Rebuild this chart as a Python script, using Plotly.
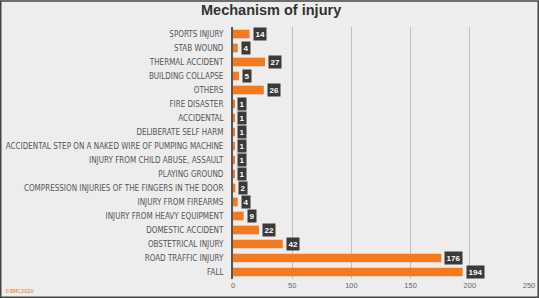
import plotly.graph_objects as go

categories = ["FALL", "ROAD TRAFFIC INJURY", "OBSTETRICAL INJURY", "DOMESTIC ACCIDENT",
              "INJURY FROM HEAVY EQUIPMENT", "INJURY FROM FIREARMS",
              "COMPRESSION INJURIES OF THE FINGERS IN THE DOOR", "PLAYING GROUND",
              "INJURY FROM CHILD ABUSE, ASSAULT",
              "ACCIDENTAL STEP ON A NAKED WIRE OF PUMPING MACHINE",
              "DELIBERATE SELF HARM", "ACCIDENTAL", "FIRE DISASTER", "OTHERS",
              "BUILDING COLLAPSE", "THERMAL ACCIDENT", "STAB WOUND", "SPORTS INJURY"]
values = [194, 176, 42, 22, 9, 4, 2, 1, 1, 1, 1, 1, 1, 26, 5, 27, 4, 14]
tick_vals = [0, 50, 100, 150, 200, 250]

W, H = 539, 298
L, R, T, B = 233, 10, 27, 19
pw = W - L - R
ph = H - T - B

fig = go.Figure(go.Bar(
    x=values, y=categories, orientation="h",
    marker=dict(color="#F47A20", line=dict(width=0)),
    width=0.62, hoverinfo="skip",
))

for c, v in zip(categories, values):
    fig.add_annotation(x=v, y=c, text="<b>%d</b>" % v, showarrow=False,
                       xanchor="left", xshift=3, bgcolor="#3a3a3a",
                       borderpad=1.5,
                       font=dict(family="Liberation Sans", size=8, color="white"))

fig.add_annotation(xref="paper", yref="paper", x=(271 - L) / pw, y=1 + (T - 10) / ph,
                   text="<b>Mechanism of injury</b>", showarrow=False,
                   xanchor="center", yanchor="middle",
                   font=dict(family="Liberation Sans", size=14.5, color="#333333"))
fig.add_annotation(xref="paper", yref="paper", x=(3 - L) / pw, y=-(291 - T - ph) / ph,
                   text="©BMC2020", showarrow=False, xanchor="left", yanchor="middle",
                   font=dict(family="DejaVu Sans Condensed", size=5.5, color="#E07020"))

fig.add_shape(type="rect", xref="paper", yref="paper",
              x0=(0.75 - L) / pw, x1=(W - 0.75 - L) / pw,
              y0=-(H - 0.75 - T - ph) / ph, y1=1 + (T - 1) / ph,
              line=dict(color="#444444", width=1.5), fillcolor="rgba(0,0,0,0)")

fig.update_layout(
    width=W, height=H,
    margin=dict(l=L, r=R, t=T, b=B, pad=0, autoexpand=False),
    paper_bgcolor="#ededed", plot_bgcolor="rgba(0,0,0,0)",
    showlegend=False, bargap=0.38,
    xaxis=dict(range=[0, 250], tickvals=tick_vals, showgrid=True,
               gridcolor="#bfbfbf", gridwidth=1, zeroline=False,
               tickfont=dict(family="Liberation Sans", size=7.5, color="#666666"),
               ticks="", showline=False, fixedrange=True, automargin=False),
    yaxis=dict(showline=True, linecolor="#555555", linewidth=2,
               tickfont=dict(family="DejaVu Sans Condensed", size=8, color="#555555"),
               ticks="", ticklabelstandoff=6, fixedrange=True, automargin=False),
)

fig.write_html("out.html", config={"displayModeBar": False},
               post_script="document.body.style.margin='0';")
